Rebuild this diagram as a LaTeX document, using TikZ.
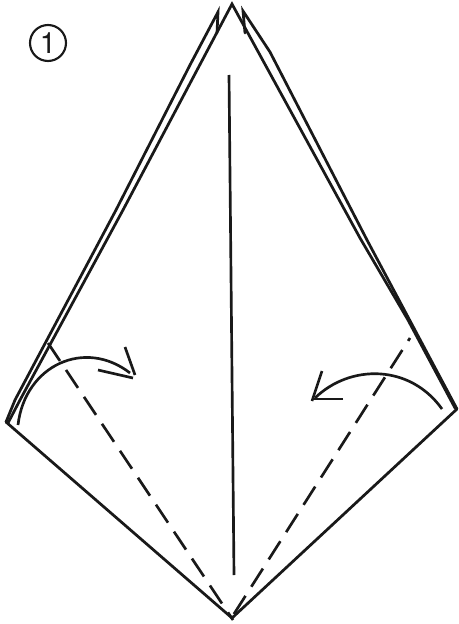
\documentclass[tikz,border=0pt]{standalone}
\usepackage{fontspec}
\setmainfont{TeX Gyre Heros}
\tikzstyle{paper} = [line width=2.05pt, line cap=round, line join=miter, black!90]
\tikzstyle{crease} = [line width=2pt, black!90]
\tikzstyle{valley} = [line width=2pt, black!90, dash pattern=on 16.2pt off 8.1pt]
\tikzstyle{foldarrow} = [line width=2pt, black!90]
\tikzstyle{stepnum} = [circle, draw=black!90, line width=1.6pt, inner sep=0pt, minimum size=27pt, font=\fontsize{22}{22}\selectfont, text=black!90]

\begin{document}
\begin{tikzpicture}[x=0.75pt, y=-0.75pt]
\useasboundingbox (0,0) rectangle (458,624);
\node(stepone) [stepnum] at (48,43) {1};
\coordinate (apex) at (232,4);
\coordinate (leftcorner) at (6,422);
\coordinate (rightcorner) at (457,409);
\coordinate (bottom) at (232,618);
\coordinate (lefttip) at (218,12);
\coordinate (righttip) at (243,11);
% outline
\draw[paper] (leftcorner) -- (bottom) -- (rightcorner);
\draw[paper] (8,423) -- (20,400) -- (123,210) -- (apex) -- (360,238) -- (408,320) -- (455,408);
\draw[paper] (217,33) -- (lefttip) -- (190,65) -- (116,210) -- (15,400) -- (leftcorner);
\draw[paper] (245,33) -- (righttip) -- (270,52) -- (336,180) -- (367,240) -- (rightcorner);
\draw[crease] (229,75) -- (234,575);
% valley folds
\draw[valley] (48,343) -- (233,620);
\draw[valley, dash phase=13.6pt] (410,338) -- (232,617);
% left arrow
\draw[foldarrow] (18,425) .. controls (25,365) and (85,338) .. (130,373);
\draw[foldarrow] (125,347) -- (135,375);
\draw[foldarrow] (98,370) -- (133,378);
% right arrow
\draw[foldarrow] (442,409) .. controls (410,364) and (350,364) .. (315,398);
\draw[foldarrow] (322,371) -- (312,401);
\draw[foldarrow] (343,399) -- (313,399);
\end{tikzpicture}
\end{document}
